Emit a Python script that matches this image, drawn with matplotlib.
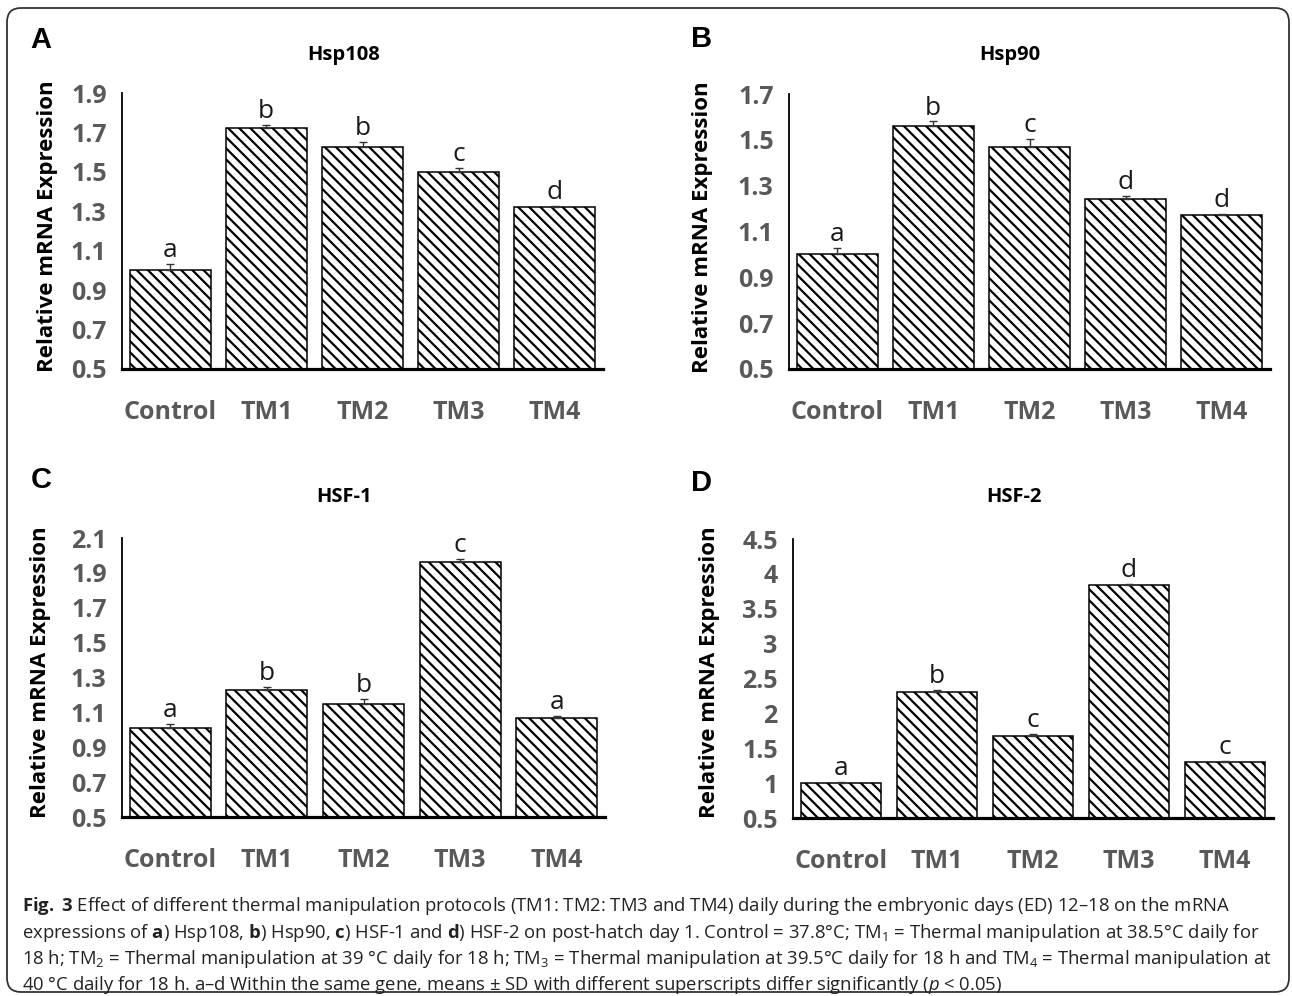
import matplotlib
matplotlib.use("Agg")
import matplotlib.pyplot as plt
from matplotlib import font_manager
from matplotlib.patches import FancyBboxPatch
from matplotlib.ticker import FormatStrFormatter, FuncFormatter
import numpy as np

# ---- data ----
categories = ["Control", "TM1", "TM2", "TM3", "TM4"]

hsp108 = [1.00, 1.72, 1.625, 1.50, 1.32]
hsp108_sd = [0.035, 0.02, 0.025, 0.02, 0.006]
hsp108_letters = ["a", "b", "b", "c", "d"]

hsp90 = [1.00, 1.56, 1.47, 1.24, 1.17]
hsp90_sd = [0.03, 0.02, 0.035, 0.015, 0.006]
hsp90_letters = ["a", "b", "c", "d", "d"]

hsf1 = [1.01, 1.23, 1.15, 1.96, 1.07]
hsf1_sd = [0.025, 0.015, 0.025, 0.02, 0.01]
hsf1_letters = ["a", "b", "b", "c", "a"]

hsf2 = [1.00, 2.31, 1.68, 3.84, 1.30]
hsf2_sd = [0.02, 0.02, 0.02, 0.02, 0.02]
hsf2_letters = ["a", "b", "c", "d", "c"]

W, H = 1292, 996
fig = plt.figure(figsize=(W / 100, H / 100), dpi=100)

fuentes = {f.name for f in font_manager.fontManager.ttflist}
CAP_FONT = "Liberation Sans Narrow" if "Liberation Sans Narrow" in fuentes else "Open Sans"
TICK_FONT = "Open Sans"

plt.rcParams["hatch.linewidth"] = 1.6
plt.rcParams["mathtext.fontset"] = "custom"
plt.rcParams["mathtext.rm"] = CAP_FONT
plt.rcParams["mathtext.bf"] = CAP_FONT + ":bold"
plt.rcParams["mathtext.it"] = CAP_FONT + ":italic"


def px(x, y):
    """pixel coords (top-left origin) -> figure fraction"""
    return x / W, 1 - y / H


def panel(rect, valores, sd, letras, ylim, step, titulo, pos_titulo,
          letra_panel, pos_letra, pos_ylabel, fmt):
    x0, y_top, x1, y_bot = rect
    ax = fig.add_axes([x0 / W, 1 - y_bot / H, (x1 - x0) / W, (y_bot - y_top) / H])
    x = np.arange(len(categories))
    ax.bar(x, np.array(valores) - ylim[0], bottom=ylim[0], width=0.84,
           color="white", edgecolor="black", linewidth=1.1, hatch="\\\\\\")
    ax.errorbar(x, valores, yerr=[np.zeros(len(sd)), sd], fmt="none",
                ecolor="#333333", elinewidth=1.0, capsize=3, capthick=1.0)
    for xi, v, e, l in zip(x, valores, sd, letras):
        ax.annotate(l, (xi, v + e), xytext=(0, 5), textcoords="offset points",
                    ha="center", va="baseline", fontsize=19,
                    family=TICK_FONT, color="#1a1a1a")
    ax.set_xlim(-0.5, 4.5)
    ax.set_ylim(*ylim)
    ax.set_yticks(np.arange(ylim[0], ylim[1] + 1e-6, step))
    ax.yaxis.set_major_formatter(fmt)
    ax.set_xticks(x)
    ax.set_xticklabels(categories)
    for s in ["top", "right"]:
        ax.spines[s].set_visible(False)
    ax.spines["left"].set_linewidth(1.3)
    ax.spines["bottom"].set_linewidth(2.3)
    ax.tick_params(axis="both", length=0, labelcolor="#595959")
    ax.tick_params(axis="y", pad=11)
    ax.tick_params(axis="x", pad=22)
    for t in ax.get_xticklabels() + ax.get_yticklabels():
        t.set_fontfamily(TICK_FONT)
        t.set_fontweight("bold")
        t.set_fontsize(18)
    fig.text(*px(*pos_titulo), titulo, ha="center", va="center",
             fontsize=14.5, fontweight="bold", family=TICK_FONT)
    fig.text(*px(*pos_letra), letra_panel, ha="center", va="center",
             fontsize=21, fontweight="bold", family="Liberation Sans")
    fig.text(*px(*pos_ylabel), "Relative mRNA Expression", rotation=90,
             ha="center", va="center", fontsize=16, fontweight="bold",
             family=TICK_FONT)
    return ax


fmt_dec = FormatStrFormatter("%.1f")
fmt_gen = FuncFormatter(lambda v, p: "%g" % round(v, 2))

panel((122, 93, 603, 369), hsp108, hsp108_sd, hsp108_letters, (0.5, 1.9), 0.2,
      "Hsp108", (344, 55), "A", (41, 40), (48, 226), fmt_dec)
panel((789, 94, 1270, 369), hsp90, hsp90_sd, hsp90_letters, (0.5, 1.7), 0.2,
      "Hsp90", (1010, 55), "B", (702, 39), (703, 227), fmt_dec)
panel((122, 538, 605, 817), hsf1, hsf1_sd, hsf1_letters, (0.5, 2.1), 0.2,
      "HSF-1", (344, 497), "C", (41, 480), (41, 672), fmt_dec)
panel((793, 539, 1273, 818), hsf2, hsf2_sd, hsf2_letters, (0.5, 4.5), 0.5,
      "HSF-2", (1014, 497), "D", (701, 483), (709, 672), fmt_gen)

# ---- caption ----
lineas = [
    r"$\mathbf{Fig.}$ $\mathbf{3}$ Effect of different thermal manipulation protocols (TM1: TM2: TM3 and TM4) daily during the embryonic days (ED) 12–18 on the mRNA",
    r"expressions of $\mathbf{a}$) Hsp108, $\mathbf{b}$) Hsp90, $\mathbf{c}$) HSF-1 and $\mathbf{d}$) HSF-2 on post-hatch day 1. Control = 37.8°C; TM$_1$ = Thermal manipulation at 38.5°C daily for",
    r"18 h; TM$_2$ = Thermal manipulation at 39 °C daily for 18 h; TM$_3$ = Thermal manipulation at 39.5°C daily for 18 h and TM$_4$ = Thermal manipulation at",
    r"40 °C daily for 18 h. a–d Within the same gene, means ± SD with different superscripts differ significantly ($\mathit{p}$ < 0.05)",
]
ys = [906, 933, 959, 985]
textos = [fig.text(*px(22, y), l, ha="left", va="center", fontsize=13,
                   family=CAP_FONT, color="#222222") for l, y in zip(lineas, ys)]
renderer = fig.canvas.get_renderer()
ancho = max(t.get_window_extent(renderer).width for t in textos[:3])
escala = 1244 / ancho
for t in textos:
    t.set_fontsize(13 * escala)

# rounded frame around the whole figure
marco = FancyBboxPatch((7, H - 992), 1282, 984, boxstyle="round,pad=0,rounding_size=14",
                       transform=None, fill=False, edgecolor="#333333", linewidth=1.3)
fig.patches.append(marco)

fig.savefig("out.png", dpi=100)
